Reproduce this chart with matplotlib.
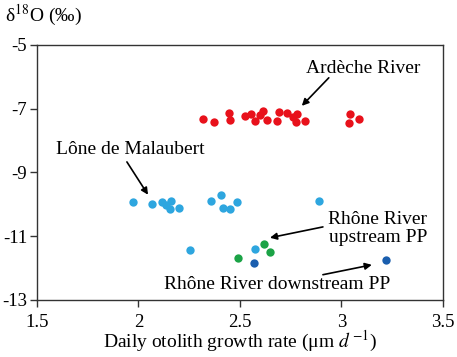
import matplotlib
matplotlib.use("Agg")
import matplotlib.pyplot as plt

plt.rcParams['font.family'] = ['Liberation Serif', 'DejaVu Serif']
plt.rcParams['mathtext.fontset'] = 'stix'

# Ardèche River
ardeche_x = [2.316, 2.372, 2.444, 2.451, 2.525, 2.554, 2.574, 2.598, 2.612, 2.635,
             2.684, 2.694, 2.733, 2.763, 2.782, 2.776, 2.819, 3.042, 3.037, 3.088]
ardeche_y = [-7.32, -7.42, -7.12, -7.35, -7.22, -7.16, -7.40, -7.19, -7.07, -7.37,
             -7.40, -7.11, -7.14, -7.25, -7.16, -7.43, -7.40, -7.16, -7.46, -7.32]
# Lône de Malaubert
lone_x = [1.971, 2.068, 2.114, 2.135, 2.160, 2.155, 2.198, 2.359, 2.406, 2.415,
          2.451, 2.485, 2.891, 2.252, 2.574]
lone_y = [-9.94, -9.98, -9.94, -10.02, -9.89, -10.14, -10.11, -9.91, -9.71, -10.12,
          -10.16, -9.93, -9.90, -11.43, -11.40]
# Rhône River upstream PP
up_x = [2.617, 2.646, 2.492]
up_y = [-11.26, -11.51, -11.70]
# Rhône River downstream PP
down_x = [2.570, 3.218]
down_y = [-11.84, -11.76]

x_ticks = [1.5, 2, 2.5, 3, 3.5]
x_tick_labels = ['1.5', '2', '2.5', '3', '3.5']
y_ticks = [-5, -7, -9, -11, -13]
y_tick_labels = ['-5', '-7', '-9', '-11', '-13']

fig = plt.figure(figsize=(4.57, 3.57), dpi=100)
ax = fig.add_axes([0.081, 0.160, 0.888, 0.714])

s = 36
ax.scatter(ardeche_x, ardeche_y, s=s, color='#E8111B', linewidths=0, zorder=3)
ax.scatter(lone_x, lone_y, s=s, color='#2EA6DF', linewidths=0, zorder=3)
ax.scatter(up_x, up_y, s=s, color='#1BA346', linewidths=0, zorder=3)
ax.scatter(down_x, down_y, s=s, color='#1A5EAE', linewidths=0, zorder=3)

ax.set_xlim(1.5, 3.5)
ax.set_ylim(-13, -5)
ax.set_xticks(x_ticks)
ax.set_xticklabels(x_tick_labels)
ax.set_yticks(y_ticks)
ax.set_yticklabels(y_tick_labels)
ax.tick_params(axis='both', labelsize=13.5, length=5, width=1, color='#333333',
               direction='out')
ax.tick_params(axis='x', pad=5)
ax.tick_params(axis='y', pad=2)
for sp in ax.spines.values():
    sp.set_color('#333333')
    sp.set_linewidth(1.0)

ax.set_xlabel(r"Daily otolith growth rate (μm $d^{\,\mathrm{-}1}$)", fontsize=14, labelpad=-1)
fig.text(0.012, 0.958, r"δ$^{18}$O (‰)", fontsize=14, ha='left', va='center')

arrow = dict(arrowstyle='-|>', color='black', lw=1.2, mutation_scale=10,
             shrinkA=0, shrinkB=0)
fs = 14
ax.text(3.106, -5.75, "Ardèche River", fontsize=fs, ha='center', va='center')
ax.annotate('', xy=(2.805, -6.91), xytext=(2.938, -6.03), arrowprops=arrow)

ax.text(1.958, -8.29, "Lône de Malaubert", fontsize=fs, ha='center', va='center')
ax.annotate('', xy=(2.047, -9.70), xytext=(1.943, -8.67), arrowprops=arrow)

ax.text(3.18, -10.77, "Rhône River\nupstream PP", fontsize=fs, ha='center', va='center',
        linespacing=1.1)
ax.annotate('', xy=(2.648, -11.05), xytext=(2.909, -10.71), arrowprops=arrow)

ax.text(2.682, -12.52, "Rhône River downstream PP", fontsize=fs, ha='center', va='center')
ax.annotate('', xy=(3.150, -11.90), xytext=(2.909, -12.21), arrowprops=arrow)

fig.savefig("out.png", dpi=100)
